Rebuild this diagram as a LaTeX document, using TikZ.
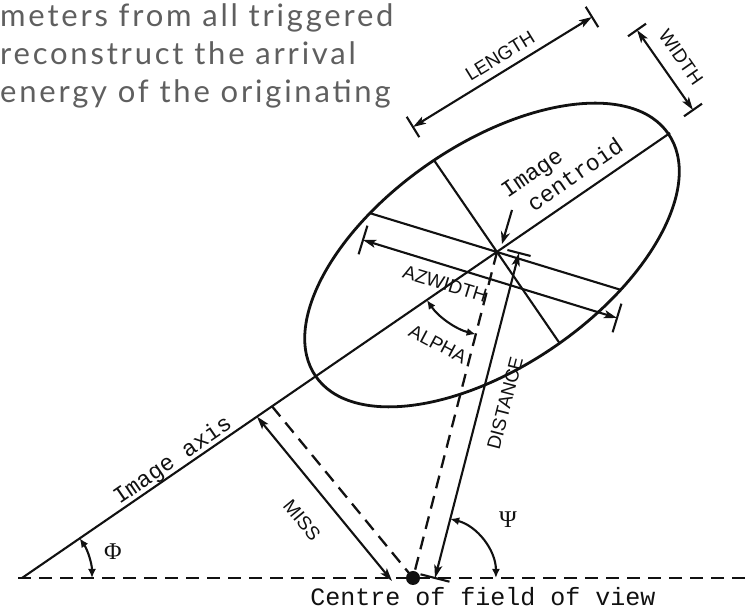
\documentclass[tikz,border=0pt]{standalone}
\usepackage{fontspec}
\usepackage{xcolor}
\usepackage{tikz}
\usetikzlibrary{arrows.meta}
\newfontfamily\paratextfont{Lato}[LetterSpace=9]
\newfontfamily\monolabelfont{Liberation Mono}
\newfontfamily\capslabelfont{Liberation Sans}
\newfontfamily\greeklabelfont{Liberation Serif}
\definecolor{paratext}{HTML}{5F5F5F}
\definecolor{inkcolor}{HTML}{111111}
\tikzset{
  >=Stealth,
  para line/.style={
    anchor=base west,
    inner sep=0pt,
    text=paratext,
    font=\paratextfont\fontsize{31}{36}\selectfont
  },
  outline/.style={
    draw=inkcolor,
    line width=2.8pt
  },
  ink/.style={
    draw=inkcolor,
    line width=2.1pt
  },
  guide/.style={
    draw=inkcolor,
    line width=2.3pt,
    dash pattern=on 13pt off 8pt
  },
  dimension/.style={
    ink,
    {Stealth[length=13pt,width=8pt,inset=3pt]}-{Stealth[length=13pt,width=8pt,inset=3pt]}
  },
  angle arc/.style={
    ink,
    {Latex[length=9pt,width=8pt]}-{Latex[length=9pt,width=8pt]}
  },
  mono label/.style={
    inner sep=1pt,
    text=inkcolor,
    font=\monolabelfont\fontsize{23}{26}\selectfont
  },
  caps label/.style={
    inner sep=1pt,
    text=inkcolor,
    font=\capslabelfont\fontsize{19}{21}\selectfont
  },
  greek label/.style={
    inner sep=1pt,
    text=inkcolor,
    font=\greeklabelfont\fontsize{24}{26}\selectfont
  }
}

\begin{document}
\begin{tikzpicture}[x=1pt,y=1pt]
  \useasboundingbox (0,0) rectangle (755,612);

  \node[para line] (P-1) at (0,585) {meters from all triggered};
  \node[para line] (P-2) at (0,547) {reconstruct the arrival};
  \node[para line] (P-3) at (0,509) {energy of the originating};

  \coordinate (B-0) at (18,34);
  \coordinate (B-1) at (752,34);
  \coordinate (A-0) at (22,34);
  \coordinate (A-1) at (670,479);
  \coordinate (E) at (492,357);
  \coordinate (C) at (497,360);
  \coordinate (O) at (413,34);

  \coordinate (WD-1) at (434.2,451.5);
  \coordinate (WD-2) at (559.8,268.5);
  \coordinate (AZ-1) at (370,398.8);
  \coordinate (AZ-2) at (620.6,322.2);
  \coordinate (AD-1) at (363,372);
  \coordinate (AD-2) at (617,294);
  \coordinate (LN-1) at (413,485);
  \coordinate (LN-2) at (592,595);
  \coordinate (WT-1) at (637,582);
  \coordinate (WT-2) at (693,502);
  \coordinate (DS-0) at (435,34);
  \coordinate (DS-1) at (519,359);
  \coordinate (MS-1) at (272,205.7);
  \coordinate (MS-2) at (257,195.4);
  \coordinate (MS-3) at (392,31);
  \coordinate (PT-1) at (512,402);
  \coordinate (PT-2) at (502,368);

  \draw[guide] (B-0) -- (B-1);
  \draw[outline,rotate around={34.5:(E)}] (E) ellipse[x radius=214,y radius=111];
  \draw[ink] (A-0) -- (A-1);
  \draw[ink] (WD-1) -- (WD-2);
  \draw[ink] (AZ-1) -- (AZ-2);
  \draw[guide] (C) -- (O);
  \draw[guide] (MS-1) -- (O);

  \draw[dimension] (LN-1) -- (LN-2);
  \draw[ink] ([shift={(-6.3,10.2)}]LN-1) -- ([shift={(6.3,-10.2)}]LN-1);
  \draw[ink] ([shift={(-6.3,10.2)}]LN-2) -- ([shift={(6.3,-10.2)}]LN-2);

  \draw[dimension] (WT-1) -- (WT-2);
  \draw[ink] ([shift={(-9,-6.3)}]WT-1) -- ([shift={(9,6.3)}]WT-1);
  \draw[ink] ([shift={(-9,-6.3)}]WT-2) -- ([shift={(9,6.3)}]WT-2);

  \draw[dimension] (AD-1) -- (AD-2);
  \draw[ink] ([shift={(-4.4,-14.3)}]AD-1) -- ([shift={(4.4,14.3)}]AD-1);
  \draw[ink] ([shift={(-4.4,-14.3)}]AD-2) -- ([shift={(4.4,14.3)}]AD-2);

  \draw[dimension] (DS-0) -- (DS-1);
  \draw[ink] ([shift={(-11.6,3)}]DS-1) -- ([shift={(11.6,-3)}]DS-1);
  \draw[ink] ([shift={(-14.5,3.7)}]DS-0) -- ([shift={(14.5,-3.7)}]DS-0);

  \draw[dimension] (MS-2) -- (MS-3);
  \draw[ink,->] (PT-1) -- (PT-2);

  \coordinate (PH-0) at (92,34);
  \coordinate (AL-0) at (426.9,311.9);
  \coordinate (PS-0) at (450.2,93.1);
  \draw[angle arc] (PH-0) arc[start angle=0,end angle=34.5,radius=70];
  \draw[angle arc] (AL-0) arc[start angle=214.5,end angle=255.5,radius=85];
  \draw[angle arc] (PS-0) arc[start angle=75.5,end angle=0,radius=61];

  \fill[inkcolor] (O) circle[radius=7];

  \node[greek label] (PH) at (113,60) {Φ};
  \node[greek label] (PS) at (508,92) {Ψ};
  \node[mono label,rotate=34.5] (IA) at (173,151) {Image axis};
  \node[mono label,rotate=34.5,align=left] (IC) at (562,444)
    {Image\\\hphantom{I}centroid};
  \node[mono label,font=\monolabelfont\fontsize{25}{28}\selectfont] (CF)
    at (483,15) {Centre of field of view};
  \node[caps label,rotate=31.6] (LN) at (500,556) {LENGTH};
  \node[caps label,rotate=-55] (WT) at (681,555) {WIDTH};
  \node[caps label,rotate=-17] (AZ) at (445,328) {AZWIDTH};
  \node[caps label,rotate=-28] (AL) at (438,268) {ALPHA};
  \node[caps label,rotate=75.5] (DS) at (505,209) {DISTANCE};
  \node[caps label,rotate=-50.5] (MS) at (302,92) {MISS};
\end{tikzpicture}
\end{document}
